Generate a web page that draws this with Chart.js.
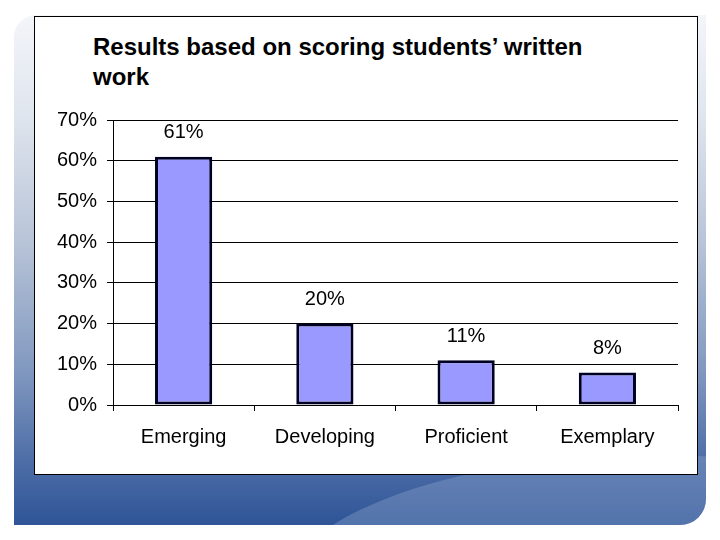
<!DOCTYPE html>
<html>
<head>
<meta charset="utf-8">
<script src="https://cdn.jsdelivr.net/npm/chart.js@4.4.0/dist/chart.umd.min.js"></script>
<style>
  html, body { margin: 0; padding: 0; background: #fff; }
  #page { position: relative; width: 720px; height: 540px; overflow: hidden; background: #fff; }
  /* slide backdrop */
  #slide {
    position: absolute; left: 14px; top: 15px; width: 692px; height: 510px;
    border-radius: 22px 0 26px 0; overflow: hidden;
    background: linear-gradient(to bottom, #f3f5f9 0%, #dfe5ee 20%, #b7c3d7 45%, #8098bf 70%, #4c6ca6 88%, #2f5597 100%);
  }
  #swoosh {
    position: absolute; left: 260px; top: 440px; width: 760px; height: 300px;
    border-radius: 50%;
    background: rgba(150, 172, 210, 0.35);
  }
  #box {
    position: absolute; left: 34px; top: 16px; width: 662px; height: 457px;
    border: 1px solid #000; background: #fff;
  }
  #title {
    position: absolute; left: 93px; top: 32px; width: 520px;
    font: bold 24px "Liberation Sans", Arial, sans-serif; line-height: 30px; color: #000;
  }
  #chart { position: absolute; left: 0; top: 0; }
</style>
</head>
<body>
<div id="page">
  <div id="slide"><div id="swoosh"></div></div>
  <div id="box"></div>
  <div id="title">Results based on scoring students’ written work</div>
  <canvas id="chart" width="720" height="540"></canvas>
</div>
<script>
// chart data
const categories = ['Emerging', 'Developing', 'Proficient', 'Exemplary']
const percentages = [61, 20, 11, 8]
const tickValues = [0, 10, 20, 30, 40, 50, 60, 70]

// labels above each bar
const valueLabels = {
  id: 'valueLabels',
  afterDatasetsDraw(chart) {
    const ctx = chart.ctx
    const meta = chart.getDatasetMeta(0)
    ctx.save()
    ctx.font = '20px "Liberation Sans", Arial, sans-serif'
    ctx.fillStyle = '#000'
    ctx.textAlign = 'center'
    ctx.textBaseline = 'middle'
    meta.data.forEach((bar, i) => {
      ctx.fillText(percentages[i] + '%', bar.x, bar.y - 24)
    })
    ctx.restore()
  }
}

new Chart(document.getElementById('chart').getContext('2d'), {
  type: 'bar',
  data: {
    labels: categories,
    datasets: [{
      data: percentages,
      backgroundColor: '#9999ff',
      borderColor: '#000022',
      borderWidth: 3,
      borderSkipped: false,
      categoryPercentage: 1,
      barPercentage: 0.405
    }]
  },
  options: {
    responsive: false,
    animation: false,
    layout: { padding: { left: 40, top: 120, right: 42, bottom: 77 } },
    plugins: {
      legend: { display: false },
      tooltip: { enabled: false }
    },
    scales: {
      y: {
        min: 0,
        max: 70,
        afterFit: scale => { scale.width = 73 },
        afterBuildTicks: scale => { scale.ticks = tickValues.map(v => ({ value: v })) },
        grid: { color: '#000', lineWidth: 1, tickLength: 6 },
        border: { color: '#000', width: 1 },
        ticks: {
          padding: 10,
          color: '#000',
          font: { family: '"Liberation Sans", Arial, sans-serif', size: 20 },
          callback: v => v + '%'
        }
      },
      x: {
        grid: { drawOnChartArea: false, offset: true, color: '#000', tickLength: 6 },
        border: { color: '#000', width: 1 },
        ticks: {
          padding: 14,
          color: '#000',
          font: { family: '"Liberation Sans", Arial, sans-serif', size: 20 }
        }
      }
    }
  },
  plugins: [valueLabels]
})
</script>
</body>
</html>
